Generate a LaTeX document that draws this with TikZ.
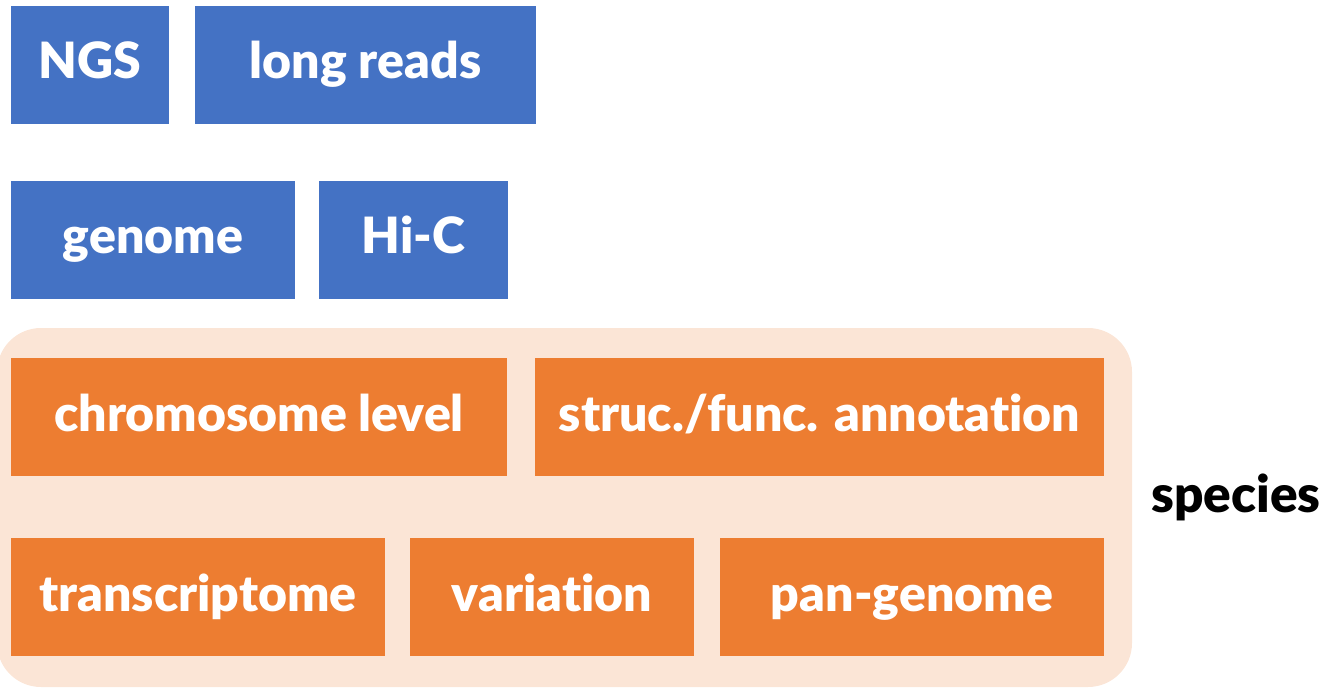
\documentclass[tikz,border=0pt]{standalone}
\usepackage{fontspec}
\setmainfont{Lato}[Ligatures=NoCommon, BoldFont={Lato Black}]
\definecolor{seqblue}{HTML}{4472C4}
\definecolor{resorange}{HTML}{ED7D31}
\definecolor{speciesbg}{HTML}{FBE5D6}
\tikzset{
    databox/.style={fill=seqblue, text=white, inner sep=0pt, minimum height=88.5pt,
        text height=30pt, text depth=9pt,
        font=\fontsize{37.5}{40}\selectfont\bfseries},
    resbox/.style={databox, fill=resorange},
}
\begin{document}
\begin{tikzpicture}[x=0.75pt, y=-0.75pt]
    \useasboundingbox (0,0) rectangle (1334,688);
    % Species panel
    \fill[speciesbg, rounded corners=33pt] (-3,328) rectangle (1132,687);
    \node[anchor=base, font=\fontsize{38.5}{40}\selectfont\bfseries] (species) at (1236,512) {species};

    % Sequencing data
    \node[databox, minimum width=118.5pt] (ngs) at (90,65) {NGS};
    \node[databox, minimum width=255.75pt] (longreads) at (365.5,65) {long reads};
    \node[databox, minimum width=213pt] (genome) at (153,239.5) {genome};
    \node[databox, minimum width=141.75pt] (hic) at (413.5,239.5) {Hi-C};

    % Species level resources
    \node[resbox, minimum width=372pt] (chrom) at (259,417) {chromosome level};
    \node[resbox, minimum width=426.75pt] (annot) at (819.5,417) {struc./func. annotation};
    \node[resbox, minimum width=280.5pt] (transcr) at (198,597) {transcriptome};
    \node[resbox, minimum width=213pt] (variation) at (552,597) {variation};
    \node[resbox, minimum width=288pt] (pangenome) at (912,597) {pan-genome};
\end{tikzpicture}
\end{document}
